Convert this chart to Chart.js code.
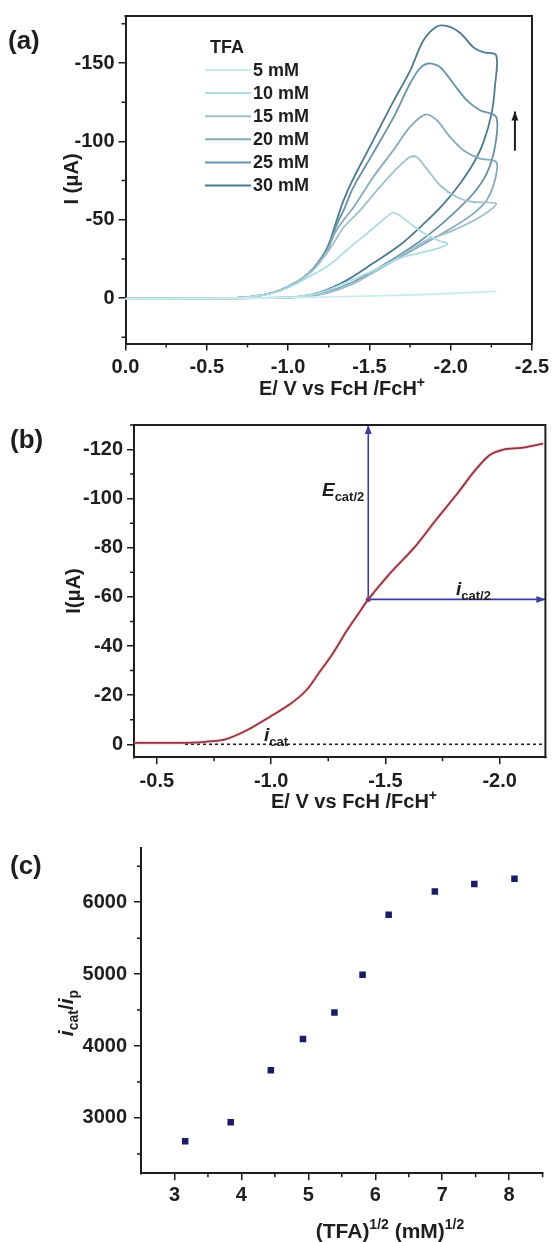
<!DOCTYPE html>
<html lang="en">
<head>
  <meta charset="UTF-8" />
  <title>TFA electrocatalysis</title>
  <script src="https://cdn.jsdelivr.net/npm/chart.js"></script>
  <style>
    body { margin: 0; background: #fff; }
    #wrap { position: relative; width: 556px; height: 1242px; }
    canvas { position: absolute; left: 0; }
  </style>
</head>
<body>
<div id="wrap">
  <canvas id="chartA" width="556" height="400" style="top:0"></canvas>
  <canvas id="chartB" width="556" height="420" style="top:400px"></canvas>
  <canvas id="chartC" width="556" height="422" style="top:820px"></canvas>
</div>

<script>
  // ---- (a) cyclic voltammograms, E in V, I in uA ----
  const tfaLabels = ['5 mM', '10 mM', '15 mM', '20 mM', '25 mM', '30 mM'];

  const cv5E = [0, -0.4, -0.8, -1.2, -1.6, -2.0, -2.28, -2.0, -1.6, -1.2, -0.8, -0.4, 0];
  const cv5I = [0.5, 0.3, 0, -0.6, -1.5, -2.8, -4.3, -3.0, -1.6, -0.6, 0, 0.2, 0.4];

  const cv10E = [0, -0.4, -0.7, -0.85, -0.95, -1.03, -1.1, -1.17, -1.237, -1.3, -1.36, -1.42, -1.483, -1.545, -1.606,
    -1.647, -1.709, -1.77, -1.85, -1.93, -1.98, -1.9, -1.709, -1.504, -1.34, -1.2, -1.05, -0.8, -0.4, 0];
  const cv10I = [0.6, 0.3, -0.3, -2, -4.5, -8, -12, -16, -20, -25, -30.5, -35.7, -41, -46.5, -51.7,
    -54.5, -51, -46, -40.5, -36.5, -34.7, -31, -26.2, -16.6, -9.2, -3.5, -0.9, 0, 0.2, 0.4];

  const cv15E = [0, -0.4, -0.7, -0.85, -0.95, -1.03, -1.08, -1.16, -1.22, -1.28, -1.34, -1.443, -1.565, -1.668, -1.75,
    -1.791, -1.852, -1.934, -2.037, -2.139, -2.28, -2.18, -2.016, -1.852, -1.73, -1.565, -1.40, -1.237, -1.08, -0.8, -0.4, 0];
  const cv15I = [0.6, 0.3, -0.3, -2, -5, -9, -12, -18.5, -26, -35, -45, -56, -70.9, -82.6, -90,
    -90, -82.6, -72, -64.5, -61.3, -60.3, -51.7, -43.2, -36.8, -29.5, -19, -9.5, -3.4, -0.7, 0, 0.2, 0.4];

  const cv20E = [0, -0.4, -0.7, -0.85, -0.95, -1.03, -1.08, -1.16, -1.24, -1.29, -1.35, -1.404, -1.524, -1.647, -1.75,
    -1.844, -1.914, -1.996, -2.078, -2.18, -2.28, -2.272, -2.221, -2.139, -2.016, -1.873, -1.73, -1.565, -1.40, -1.237,
    -1.08, -0.8, -0.4, 0];
  const cv20I = [0.6, 0.3, -0.3, -2, -5, -9, -12, -19, -30, -42, -51, -58.1, -77.3, -94.3, -109.2,
    -117.1, -113.5, -102.8, -94.3, -89, -86.9, -75.2, -62.4, -53.9, -45.3, -36.8, -28.4, -18.8, -9.2, -3.2,
    -0.7, 0, 0.2, 0.4];

  const cv25E = [0, -0.4, -0.7, -0.85, -0.95, -1.03, -1.08, -1.16, -1.24, -1.30, -1.35, -1.40, -1.52, -1.65, -1.75,
    -1.81, -1.864, -1.934, -2.016, -2.098, -2.18, -2.28, -2.272, -2.221, -2.139, -2.016, -1.873, -1.73, -1.565, -1.40,
    -1.237, -1.08, -0.8, -0.4, 0];
  const cv25I = [0.6, 0.3, -0.3, -2, -5, -9, -12, -19.5, -31, -47, -58, -70.5, -92, -115.6, -136.9,
    -146.5, -149.7, -147.5, -136.9, -126.3, -119.9, -115.5, -96.4, -79.4, -66.7, -53.9, -41.1, -30.5, -19.8, -10.2,
    -3.8, -0.8, 0, 0.2, 0.4];

  const cv30E = [0, -0.4, -0.7, -0.85, -0.95, -1.03, -1.08, -1.16, -1.24, -1.30, -1.34, -1.40, -1.48, -1.565, -1.65,
    -1.75, -1.83, -1.91, -1.98, -2.06, -2.14, -2.2, -2.28, -2.272, -2.252, -2.2, -2.14, -2.057, -1.955, -1.83,
    -1.69, -1.52, -1.36, -1.2, -1.05, -0.8, -0.4, 0];
  const cv30I = [0.6, 0.3, -0.3, -2, -5, -9, -12, -19.5, -32, -50, -62, -76, -92, -109, -126,
    -145, -164, -173, -173.5, -169, -160, -157, -155, -135, -118, -99, -86, -73, -60, -47,
    -34, -22, -11.3, -3.8, -0.6, 0, 0.2, 0.4];

  const trendE = [-2.395, -2.395];
  const trendI = [-94, -119];

  const aXTicks = [0, -0.5, -1, -1.5, -2, -2.5];
  const aYTicks = [0, -50, -100, -150];
  const aXMinor = [-0.25, -0.75, -1.25, -1.75, -2.25];
  const aYMinor = [25, -25, -75, -125, -175];

  // ---- (b) linear sweep, E in V, I in uA ----
  const lsvE = [-0.40, -0.55, -0.66, -0.72, -0.80, -0.90, -1.00, -1.085, -1.154, -1.208, -1.27, -1.333, -1.387, -1.425,
    -1.519, -1.628, -1.72, -1.814, -1.892, -1.954, -2.016, -2.094, -2.19];
  const lsvI = [-0.6, -0.6, -0.7, -1.1, -2.0, -6.0, -11.5, -16.5, -22, -28.9, -37, -46.5, -53.9, -59,
    -69.5, -80.3, -91.2, -102, -111.5, -117.6, -120, -120.7, -122.4];

  const ecatE = [-1.425, -1.425];
  const ecatI = [-59, -130];
  const icatHalfE = [-1.425, -2.2];
  const icatHalfI = [-59, -59];
  const zeroE = [-0.623, -2.2];
  const zeroI = [0, 0];

  const bXTicks = [-0.5, -1, -1.5, -2];
  const bYTicks = [0, -20, -40, -60, -80, -100, -120];
  const bXMinor = [-0.75, -1.25, -1.75];
  const bYMinor = [-10, -30, -50, -70, -90, -110, -130];

  // ---- (c) icat/ip against sqrt(TFA) ----
  const tfaRoot = [3.16, 3.84, 4.44, 4.92, 5.39, 5.81, 6.20, 6.89, 7.48, 8.08];
  const icatRatio = [2676, 2940, 3662, 4097, 4468, 4990, 5825, 6149, 6255, 6325];

  const cXTicks = [3, 4, 5, 6, 7, 8];
  const cYTicks = [3000, 4000, 5000, 6000];
  const cXMinor = [3.5, 4.5, 5.5, 6.5, 7.5, 8.5];
  const cYMinor = [2500, 3500, 4500, 5500, 6500];

  // ---- drawing helpers ----
  const FONT = '"Liberation Sans", Arial, sans-serif';
  const INK = '#1e1e1e';
  const tfaColors = ['#cdecf1', '#addce4', '#9fc1cc', '#86aabc', '#6892a7', '#4b7a91'];

  const pts = (xs, ys) => xs.map((x, i) => ({ x, y: ys[i] }));

  function drawRich(ctx, segs, x, y, opt) {
    const size = opt.size || 20;
    const small = Math.round(size * 0.68);
    const fontOf = s => `${s.italic ? 'italic ' : ''}bold ${s.sub || s.sup ? small : size}px ${FONT}`;
    let w = 0;
    const widths = segs.map(s => { ctx.font = fontOf(s); const m = ctx.measureText(s.t).width; w += m; return m; });
    ctx.save();
    ctx.translate(x, y);
    if (opt.rotate) ctx.rotate(opt.rotate);
    let cx = opt.align === 'left' ? 0 : opt.align === 'right' ? -w : -w / 2;
    ctx.textAlign = 'left';
    ctx.textBaseline = 'alphabetic';
    ctx.fillStyle = opt.color || INK;
    segs.forEach((s, i) => {
      ctx.font = fontOf(s);
      const dy = s.sub ? size * 0.28 : s.sup ? -size * 0.42 : 0;
      ctx.fillText(s.t, cx, size * 0.36 + dy);
      cx += widths[i];
    });
    ctx.restore();
  }

  // frame, minor ticks, axis titles, panel letter, arrowheads
  const decor = {
    id: 'decor',
    afterDatasetsDraw(chart) {
      const ctx = chart.ctx;
      chart.data.datasets.forEach((ds, i) => {
        if (!ds.arrowEnd) return;
        const els = chart.getDatasetMeta(i).data;
        const p1 = els[els.length - 2], p2 = els[els.length - 1];
        const ang = Math.atan2(p2.y - p1.y, p2.x - p1.x);
        ctx.save();
        ctx.translate(p2.x, p2.y);
        ctx.rotate(ang);
        ctx.fillStyle = ds.borderColor;
        ctx.beginPath();
        ctx.moveTo(0, 0);
        ctx.lineTo(-9, -3.5);
        ctx.lineTo(-9, 3.5);
        ctx.closePath();
        ctx.fill();
        ctx.restore();
      });
    },
    afterDraw(chart, args, o) {
      if (!o || !o.label) return;
      const ctx = chart.ctx, a = chart.chartArea;
      const sx = chart.scales.x, sy = chart.scales.y;
      ctx.save();
      ctx.strokeStyle = INK;
      if (o.box) {
        ctx.lineWidth = 2;
        ctx.beginPath();
        ctx.moveTo(a.left - 1, a.top);
        ctx.lineTo(a.right, a.top);
        ctx.lineTo(a.right, a.bottom + 1);
        ctx.stroke();
      }
      ctx.lineWidth = 1.5;
      ctx.beginPath();
      (o.xMinor || []).forEach(v => {
        const p = sx.getPixelForValue(v);
        ctx.moveTo(p, a.bottom); ctx.lineTo(p, a.bottom + 4);
      });
      (o.yMinor || []).forEach(v => {
        const p = sy.getPixelForValue(v);
        ctx.moveTo(a.left - 4, p); ctx.lineTo(a.left, p);
      });
      ctx.stroke();

      drawRich(ctx, o.xTitle, o.xTitleAt[0], o.xTitleAt[1], { size: o.titleSize || 20 });
      drawRich(ctx, o.yTitle, o.yTitleAt[0], o.yTitleAt[1], { size: o.titleSize || 20, rotate: -Math.PI / 2 });

      ctx.fillStyle = INK;
      ctx.font = `bold 26px ${FONT}`;
      ctx.textAlign = 'left';
      ctx.textBaseline = 'middle';
      ctx.fillText(o.label, o.labelAt[0], o.labelAt[1]);

      if (o.extra) o.extra(chart, ctx);
      ctx.restore();
    }
  };
  Chart.register(decor);

  function scales(o) {
    const tickFont = { family: FONT, size: 20, weight: 'bold' };
    const axis = (min, max, rev, list, fmt, pad) => ({
      type: 'linear', min, max, reverse: rev,
      grid: { drawOnChartArea: false, color: INK, lineWidth: 1.5, tickLength: 7 },
      border: { display: true, color: INK, width: 2 },
      title: { display: false },
      ticks: { font: tickFont, color: INK, padding: pad, maxRotation: 0, autoSkip: false, callback: fmt },
      afterBuildTicks: s => { s.ticks = list.map(v => ({ value: v })); }
    });
    const x = axis(o.xMin, o.xMax, o.xRev, o.xTicks, o.xFmt, o.xPad);
    x.afterFit = s => { s.height = o.xH; };
    const y = axis(o.yMin, o.yMax, o.yRev, o.yTicks, o.yFmt, o.yPad);
    y.afterFit = s => { s.width = o.yW; };
    return { x, y };
  }

  function baseOptions(o, decorOpts) {
    return {
      responsive: false,
      animation: false,
      events: [],
      layout: { padding: { left: 0, right: o.padR, top: o.padT, bottom: 0 } },
      elements: { point: { radius: 0 } },
      plugins: { legend: { display: false }, tooltip: { enabled: false }, decor: decorOpts },
      scales: scales(o)
    };
  }

  const potentialTitle = [{ t: 'E/ V vs FcH /FcH' }, { t: '+', sup: true }];
  const fixed1 = v => v.toFixed(1);
  const plain = v => String(v);

  // ---- (a) ----
  const cvSets = [[cv5E, cv5I], [cv10E, cv10I], [cv15E, cv15I], [cv20E, cv20I], [cv25E, cv25I], [cv30E, cv30I]];
  const datasetsA = cvSets.map(([e, i], k) => ({
    label: tfaLabels[k], data: pts(e, i), showLine: true, tension: 0.3,
    borderColor: tfaColors[k], borderWidth: 1.8
  }));
  datasetsA.push({ label: 'trend', data: pts(trendE, trendI), showLine: true, borderColor: INK, borderWidth: 2, arrowEnd: true });

  new Chart(document.getElementById('chartA'), {
    type: 'scatter',
    data: { datasets: datasetsA },
    options: baseOptions({
      xMin: -2.5, xMax: 0, xRev: true, xTicks: aXTicks, xFmt: fixed1, xPad: 5, xH: 56.5,
      yMin: -180, yMax: 29, yRev: true, yTicks: aYTicks, yFmt: plain, yPad: 4, yW: 125.5,
      padR: 24, padT: 15
    }, {
      box: true, xMinor: aXMinor, yMinor: aYMinor,
      xTitle: potentialTitle, xTitleAt: [342, 388],
      yTitle: [{ t: 'I (μA)' }], yTitleAt: [71, 179],
      label: '(a)', labelAt: [8, 42],
      extra(chart, ctx) {
        ctx.font = `bold 18px ${FONT}`;
        ctx.fillStyle = INK;
        ctx.textAlign = 'left';
        ctx.textBaseline = 'middle';
        ctx.fillText('TFA', 210, 48);
        tfaLabels.forEach((lab, k) => {
          const y = 70 + k * 23.1;
          ctx.strokeStyle = tfaColors[k];
          ctx.lineWidth = 2;
          ctx.beginPath(); ctx.moveTo(205, y); ctx.lineTo(251, y); ctx.stroke();
          ctx.fillStyle = INK;
          ctx.fillText(lab, 253, y + 1);
        });
      }
    })
  });

  // ---- (b) ----
  const BLUE = '#3d3d9e';
  const bNotes = [
    { segs: [{ t: 'E', italic: true }, { t: 'cat/2', sub: true }], e: -1.425, i: -104, align: 'right', dx: -4 },
    { segs: [{ t: 'i', italic: true }, { t: 'cat/2', sub: true }], e: -1.809, i: -63.6, align: 'left', dx: 0 },
    { segs: [{ t: 'i', italic: true }, { t: 'cat', sub: true }], e: -0.969, i: -4.2, align: 'left', dx: 0 }
  ];

  new Chart(document.getElementById('chartB'), {
    type: 'scatter',
    data: {
      datasets: [
        { data: pts(lsvE, lsvI), showLine: true, tension: 0.3, borderColor: 'rgba(240,120,130,0.25)', borderWidth: 4 },
        { data: pts(lsvE, lsvI), showLine: true, tension: 0.3, borderColor: '#6e1f2a', borderWidth: 1.8 },
        { data: pts(zeroE, zeroI), showLine: true, borderColor: INK, borderWidth: 1.6, borderDash: [3, 3] },
        { data: pts(ecatE, ecatI), showLine: true, borderColor: BLUE, borderWidth: 1.6, arrowEnd: true,
          pointRadius: [2.5, 0], pointBackgroundColor: BLUE, pointBorderWidth: 0 },
        { data: pts(icatHalfE, icatHalfI), showLine: true, borderColor: BLUE, borderWidth: 1.6, arrowEnd: true }
      ]
    },
    options: baseOptions({
      xMin: -2.2, xMax: -0.4, xRev: true, xTicks: bXTicks, xFmt: fixed1, xPad: 5, xH: 62.7,
      yMin: -130, yMax: 5.3, yRev: true, yTicks: bYTicks, yFmt: plain, yPad: 4, yW: 134,
      padR: 10.6, padT: 25
    }, {
      box: true, xMinor: bXMinor, yMinor: bYMinor,
      xTitle: potentialTitle, xTitleAt: [354, 401],
      yTitle: [{ t: 'I(μA)' }], yTitleAt: [73, 191],
      label: '(b)', labelAt: [10, 41],
      extra(chart, ctx) {
        const sx = chart.scales.x, sy = chart.scales.y;
        bNotes.forEach(n => {
          drawRich(ctx, n.segs, sx.getPixelForValue(n.e) + n.dx, sy.getPixelForValue(n.i), { size: 19, align: n.align });
        });
      }
    })
  });

  // ---- (c) ----
  new Chart(document.getElementById('chartC'), {
    type: 'scatter',
    data: {
      datasets: [{
        data: pts(tfaRoot, icatRatio), pointStyle: 'rect', pointRadius: 4.6,
        backgroundColor: '#1b1b66', borderColor: '#1b1b66', borderWidth: 0
      }]
    },
    options: baseOptions({
      xMin: 2.5, xMax: 8.5, xRev: false, xTicks: cXTicks, xFmt: plain, xPad: 3, xH: 68.7,
      yMin: 2230, yMax: 6750, yRev: false, yTicks: cYTicks, yFmt: plain, yPad: 7, yW: 141,
      padR: 13.4, padT: 28.3
    }, {
      box: false, xMinor: cXMinor, yMinor: cYMinor,
      titleSize: 21,
      xTitle: [{ t: '(TFA)' }, { t: '1/2', sup: true }, { t: ' (mM)' }, { t: '1/2', sup: true }], xTitleAt: [390, 410],
      yTitle: [{ t: 'i', italic: true }, { t: 'cat', sub: true }, { t: '/' }, { t: 'i', italic: true }, { t: 'p', sub: true }],
      yTitleAt: [65, 193],
      label: '(c)', labelAt: [10, 47]
    })
  });
</script>
</body>
</html>
